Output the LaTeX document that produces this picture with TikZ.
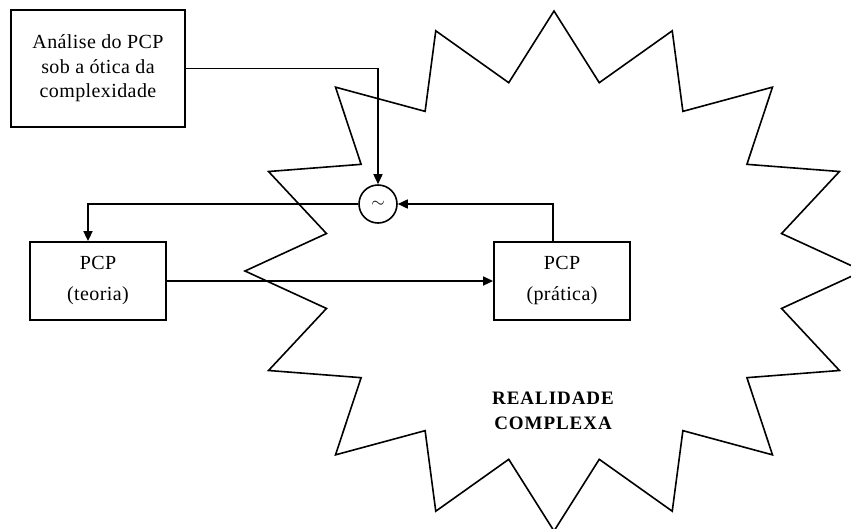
\documentclass[tikz,border=0pt]{standalone}
\usepackage{fontspec}
\setmainfont{Liberation Serif}
\usetikzlibrary{arrows.meta}
\begin{document}
\begin{tikzpicture}[x=1pt,y=-1pt,
  boxnode/.style={draw,line width=1.8pt,fill=white,inner sep=0pt,align=center},
  conn/.style={line width=1.6pt},
  arr/.style={conn,-{Triangle[length=10pt,width=9pt]}},
  txt/.style={font=\fontsize{20}{24.5}\selectfont\addfontfeature{LetterSpace=2}}
]
\useasboundingbox (0,0) rectangle (851,528);
\begin{scope}
\clip (0,0) rectangle (851,528);
\draw[line width=1.6pt,line join=miter]
  ({554+309*cos(0)},{271-260*sin(0)})
  \foreach \k in {0,...,15}{
    -- ({554+232*cos(22.5*\k+11.25)},{271-192*sin(22.5*\k+11.25)})
    -- ({554+309*cos(22.5*\k+22.5)},{271-260*sin(22.5*\k+22.5)})
  } -- cycle;
\end{scope}
\node[boxnode,txt,minimum width=174pt,minimum height=117pt] (an) at (98,68.5)
  {Análise do PCP\\sob a ótica da\\complexidade};
\node[boxnode,minimum width=136pt,minimum height=78pt,
  font=\fontsize{20}{31}\selectfont\addfontfeature{LetterSpace=2}] (teo) at (98,281)
  {PCP\\(teoria)};
\node[boxnode,minimum width=136pt,minimum height=78pt,
  font=\fontsize{20}{31}\selectfont\addfontfeature{LetterSpace=2}] (pra) at (562,281)
  {PCP\\(prática)};
\node[draw,circle,line width=1.6pt,fill=white,minimum size=38pt,inner sep=0pt,
  font=\fontsize{17}{17}\selectfont] (cmp) at (378,204) {$\sim$};
\node[font=\fontsize{19}{25}\selectfont\bfseries\addfontfeature{LetterSpace=5},align=center] (real) at (553,411)
  {REALIDADE\\COMPLEXA};
\draw[arr] (an.east) -| (cmp.north);
\draw[arr] (cmp.west) -| ([xshift=-10pt]teo.north);
\draw[arr] (teo.east) -- (pra.west);
\draw[arr] ([xshift=-9pt]pra.north) |- (cmp.east);
\end{tikzpicture}
\end{document}
